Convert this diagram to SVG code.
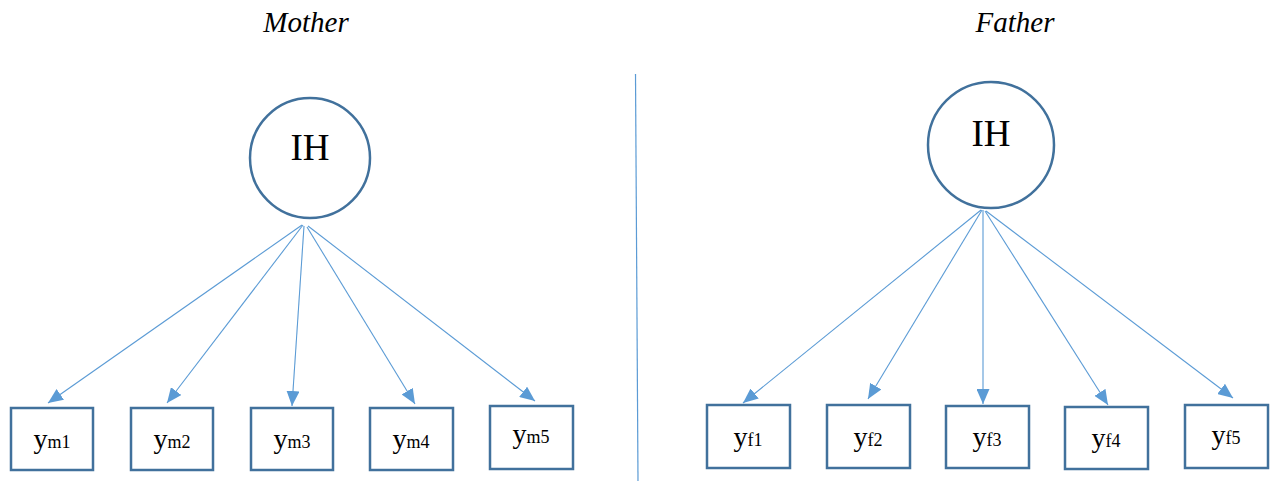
<svg xmlns="http://www.w3.org/2000/svg" width="1270" height="482" viewBox="0 0 1270 482">
  <style>
    .title { font-family: "Liberation Serif", "Times New Roman", serif; font-style: italic; font-size: 29px; fill: #000; text-anchor: middle; }
    .latent circle { fill: #fff; stroke: #41719C; stroke-width: 2.5; }
    .latent text { font-family: "Liberation Serif", "Times New Roman", serif; font-size: 37px; fill: #000; text-anchor: middle; }
    .obs rect { fill: #fff; stroke: #41719C; stroke-width: 2.5; }
    .obs text { font-family: "Liberation Serif", "Times New Roman", serif; font-size: 28px; fill: #000; text-anchor: middle; }
    .obs tspan.sub { font-size: 18px; }
    .edge { stroke: #5B9BD5; stroke-width: 1.1; fill: none; marker-end: url(#arrow); }
    .divider { stroke: #5B9BD5; stroke-width: 1.2; }
  </style>
  <defs>
    <marker id="arrow" markerUnits="userSpaceOnUse" markerWidth="16" markerHeight="13" refX="15" refY="6.5" orient="auto">
      <path d="M0,0 L15,6.5 L0,13 Z" fill="#5B9BD5"/>
    </marker>
  </defs>

  <rect width="1270" height="482" fill="#fff"/>

  <!-- section titles -->
  <text class="title" x="306" y="32">Mother</text>
  <text class="title" x="1015" y="32">Father</text>

  <!-- separator between the two models -->
  <line class="divider" x1="635.5" y1="74" x2="638" y2="481"/>

  <!-- loadings -->
  <g id="connectors">
    <line class="edge" x1="302" y1="225" x2="48" y2="403"/>
    <line class="edge" x1="303" y1="225" x2="167" y2="403"/>
    <line class="edge" x1="304" y1="226" x2="292" y2="406"/>
    <line class="edge" x1="307" y1="227" x2="415" y2="404"/>
    <line class="edge" x1="308" y1="226" x2="535" y2="401"/>

    <line class="edge" x1="981" y1="210" x2="743" y2="403"/>
    <line class="edge" x1="982" y1="210" x2="868" y2="399"/>
    <line class="edge" x1="983" y1="210" x2="983" y2="404"/>
    <line class="edge" x1="985" y1="211" x2="1108" y2="405"/>
    <line class="edge" x1="986" y1="211" x2="1233" y2="398"/>
  </g>

  <!-- latent factors -->
  <g id="ih-mother" class="latent">
    <circle cx="310" cy="158" r="60"/>
    <text x="310" y="160">IH</text>
  </g>
  <g id="ih-father" class="latent">
    <circle cx="991" cy="145" r="63"/>
    <text x="991" y="146">IH</text>
  </g>

  <!-- mother indicators -->
  <g id="ym1" class="obs"><rect x="11" y="408" width="82" height="62"/><text x="52" y="448">y<tspan class="sub">m1</tspan></text></g>
  <g id="ym2" class="obs"><rect x="131" y="408" width="82" height="62"/><text x="172" y="448">y<tspan class="sub">m2</tspan></text></g>
  <g id="ym3" class="obs"><rect x="251" y="408" width="82" height="62"/><text x="292" y="448">y<tspan class="sub">m3</tspan></text></g>
  <g id="ym4" class="obs"><rect x="370" y="408" width="83" height="62"/><text x="411" y="448">y<tspan class="sub">m4</tspan></text></g>
  <g id="ym5" class="obs"><rect x="490" y="406" width="83" height="63"/><text x="531" y="443">y<tspan class="sub">m5</tspan></text></g>

  <!-- father indicators -->
  <g id="yf1" class="obs"><rect x="707" y="405" width="83" height="63"/><text x="748" y="446">y<tspan class="sub">f1</tspan></text></g>
  <g id="yf2" class="obs"><rect x="827" y="405" width="83" height="63"/><text x="868" y="446">y<tspan class="sub">f2</tspan></text></g>
  <g id="yf3" class="obs"><rect x="946" y="406" width="83" height="62"/><text x="987" y="446">y<tspan class="sub">f3</tspan></text></g>
  <g id="yf4" class="obs"><rect x="1065" y="407" width="83" height="62"/><text x="1106" y="447">y<tspan class="sub">f4</tspan></text></g>
  <g id="yf5" class="obs"><rect x="1185" y="405" width="83" height="63"/><text x="1226" y="444">y<tspan class="sub">f5</tspan></text></g>
</svg>
